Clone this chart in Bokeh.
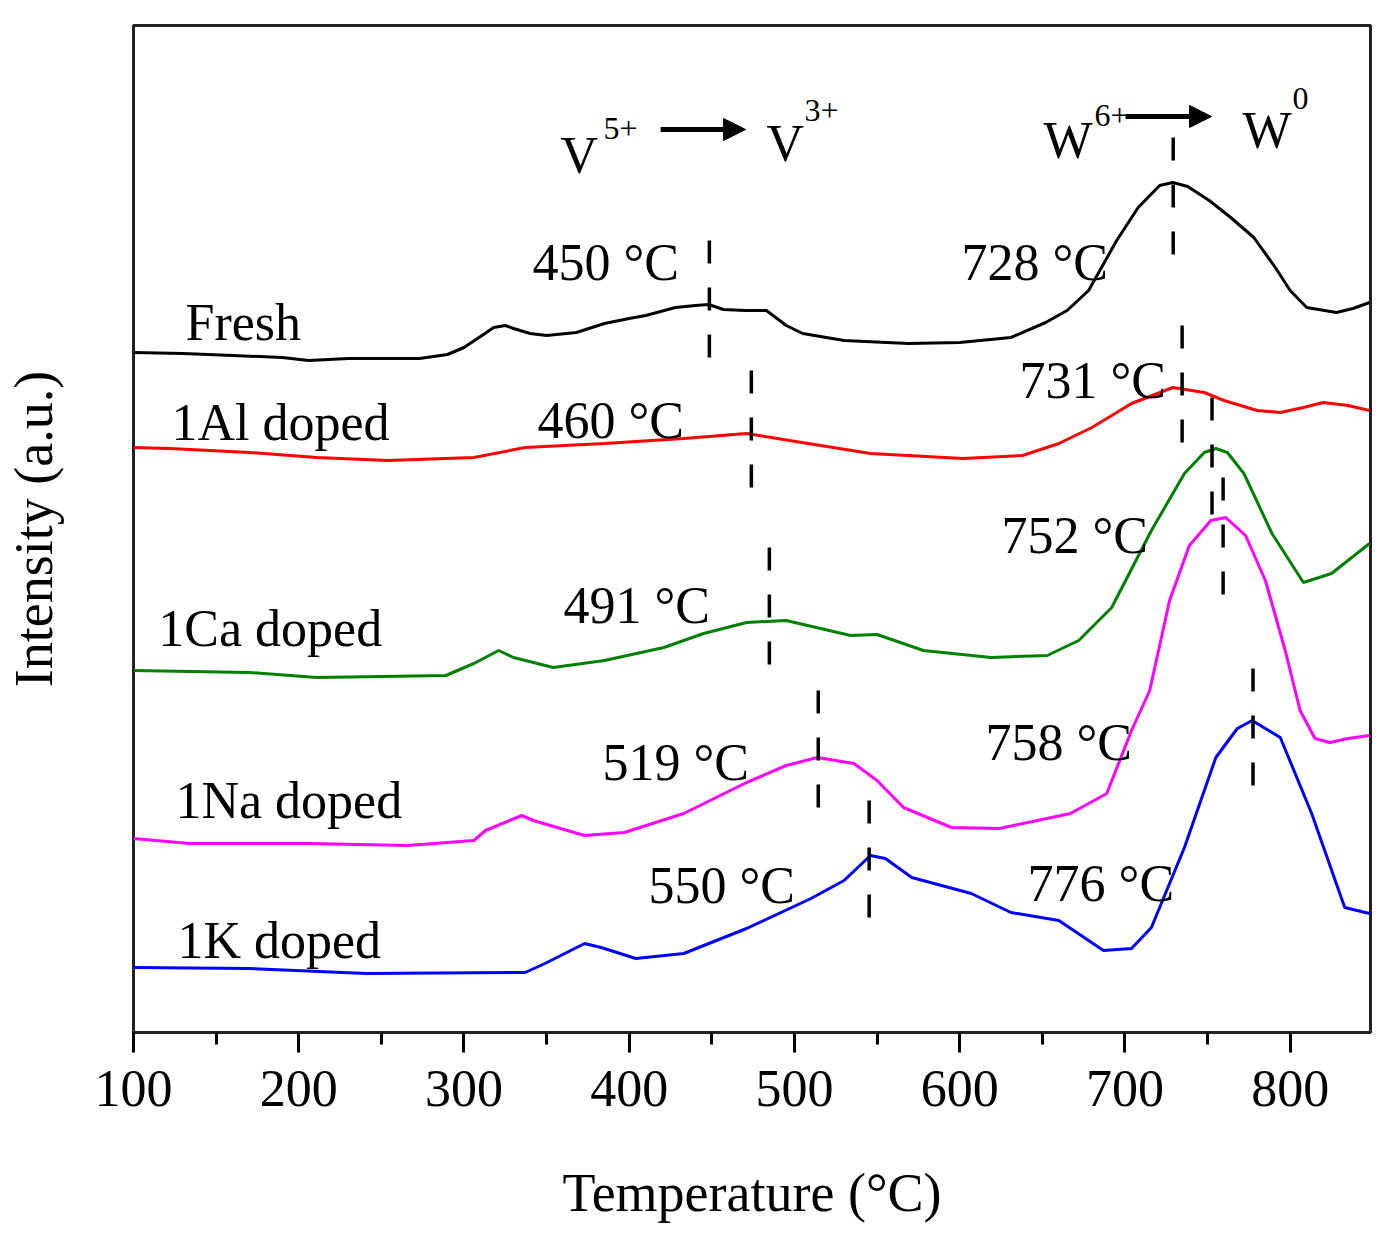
from bokeh.plotting import figure
from bokeh.models import Range1d, FixedTicker, Arrow, NormalHead
from bokeh.core.properties import value
from bokeh.embed import file_html
from bokeh.resources import INLINE

FONT = "Liberation Serif"

# H2-TPR profiles, values (intensity in a.u., curves already offset)
temp_fresh = [100, 130, 160, 190, 206, 230, 273, 290, 300, 310, 318, 325, 330, 340, 350, 368, 385, 400,
              410, 428, 440, 448, 457, 470, 483, 495, 505, 530, 569, 600, 631, 652, 665, 678, 695, 708,
              721, 729, 738, 751, 764, 778, 791, 800, 810, 828, 838, 848]
int_fresh = [680, 679, 677, 675, 672, 674, 674, 678, 685, 696, 705, 707, 704, 699, 697, 700, 709, 714,
             717, 725, 727, 728, 723, 722, 722, 707, 699, 692, 689, 690, 695, 710, 722, 742, 792, 825,
             847, 850, 846, 832, 815, 795, 765, 742, 725, 720, 724, 730]

temp_al = [100, 122, 170, 211, 254, 306, 337, 385, 433, 471, 497, 546, 602, 638, 660, 680, 704, 729,
           748, 760, 780, 794, 808, 820, 835, 848]
int_al = [585, 584, 580, 575, 572, 575, 585, 589, 594, 599, 592, 579, 574, 577, 589, 605, 629, 645,
          640, 632, 622, 620, 625, 630, 627, 622]

temp_ca = [100, 170, 211, 289, 306, 321, 330, 354, 385, 421, 445, 471, 495, 534, 550, 578, 619, 653,
           672, 692, 716, 736, 748, 755, 762, 772, 789, 808, 825, 848]
int_ca = [362, 360, 355, 357, 369, 382, 375, 365, 372, 385, 399, 410, 412, 397, 398, 382, 375, 377,
          392, 425, 502, 559, 580, 584, 580, 559, 499, 450, 459, 489]

temp_na = [100, 134, 206, 266, 306, 313, 335, 342, 373, 397, 433, 471, 495, 514, 536, 550, 566, 595,
           624, 667, 689, 704, 715, 727, 739, 752, 761, 773, 785, 797, 806, 815, 824, 835, 848]
int_na = [194, 189, 189, 187, 192, 202, 217, 212, 197, 200, 219, 250, 267, 275, 269, 252, 225, 205,
          204, 219, 239, 302, 342, 432, 487, 512, 515, 497, 452, 382, 322, 294, 290, 294, 297]

temp_k = [100, 170, 241, 337, 349, 373, 383, 404, 433, 471, 510, 530, 546, 555, 571, 607, 631, 660,
          687, 704, 716, 736, 755, 768, 777, 794, 813, 833, 848]
int_k = [65, 64, 59, 60, 69, 89, 85, 74, 79, 104, 134, 152, 177, 174, 155, 139, 120, 112,
         82, 84, 105, 185, 275, 304, 312, 295, 219, 125, 119]

series_names = ["Fresh", "1Al doped", "1Ca doped", "1Na doped", "1K doped"]
series_colors = ["black", "#ff0000", "#008000", "#ff00ff", "#0000ff"]

# peak markers: temperature label, dashed line position and vertical extent
peak_labels = ["450 \u00b0C", "460 \u00b0C", "491 \u00b0C", "519 \u00b0C", "550 \u00b0C",
               "728 \u00b0C", "731 \u00b0C", "752 \u00b0C", "758 \u00b0C", "776 \u00b0C"]
peak_x = [448.5, 473.9, 484.8, 514.4, 545.2, 729.2, 734.6, 752.7, 759.4, 777.5]
peak_y0 = [675, 545, 368, 225, 115, 778, 590, 518, 438, 247]
peak_y1 = [792, 662, 485, 342, 232, 895, 707, 635, 555, 364]
peak_label_x = [341.5, 344.5, 360.2, 383.8, 411.7, 601.1, 636.2, 625.3, 615.6, 641.1]
peak_label_y = [770, 612, 427, 270, 147, 770, 652, 497, 290, 149]

name_x = [131.5, 123.0, 115.0, 125.4, 126.6]
name_y = [710, 610, 404, 232, 92]

p = figure(frame_width=1237, frame_height=1007,
           x_range=Range1d(100, 848.6), y_range=Range1d(0, 1007),
           output_backend="svg", toolbar_location=None,
           min_border_left=133, min_border_top=25, min_border_right=16, min_border_bottom=195,
           background_fill_color="white", border_fill_color="white")

p.xgrid.visible = False
p.ygrid.visible = False
p.outline_line_color = "#222222"
p.outline_line_width = 3

curves = [(temp_fresh, int_fresh), (temp_al, int_al), (temp_ca, int_ca), (temp_na, int_na), (temp_k, int_k)]
for (tx, iy), col in zip(curves, series_colors):
    p.line(tx, iy, line_color=col, line_width=3)

p.segment(x0=peak_x, y0=peak_y1, x1=peak_x, y1=peak_y0,
          line_color="black", line_width=3.5, line_dash="23 24")

p.text(x=name_x, y=name_y, text=series_names, text_font=value(FONT), text_font_size="52px",
       text_baseline="alphabetic", text_align="left", text_color="black")
p.text(x=peak_label_x, y=peak_label_y, text=peak_labels, text_font=value(FONT), text_font_size="52px",
       text_baseline="alphabetic", text_align="left", text_color="black")

# oxidation state annotations
p.text(x=[358.4, 483.1, 650.7, 771.2], y=[877, 889, 892, 902], text=["V", "V", "W", "W"],
       text_font=value(FONT), text_font_size="52px", text_baseline="alphabetic", text_align="left")
p.text(x=[384.5, 506.1, 681.6, 801.4], y=[904, 922, 917, 934], text=["5+", "3+", "6+", "0"],
       text_font=value(FONT), text_font_size="32px", text_baseline="alphabetic", text_align="left")
for xs, xe, yy in [(419.0, 470.4, 903), (700.4, 752.4, 916)]:
    p.add_layout(Arrow(end=NormalHead(size=22, fill_color="black", line_color="black"),
                       x_start=xs, y_start=yy, x_end=xe, y_end=yy,
                       line_color="black", line_width=5))

ax = p.xaxis[0]
ax.ticker = FixedTicker(ticks=[100, 200, 300, 400, 500, 600, 700, 800],
                        minor_ticks=[150, 250, 350, 450, 550, 650, 750, 850])
ax.axis_line_color = "#222222"
ax.axis_line_width = 3
ax.major_tick_line_width = 3
ax.minor_tick_line_width = 3
ax.major_tick_in = 0
ax.major_tick_out = 20
ax.minor_tick_in = 0
ax.minor_tick_out = 12
ax.major_label_standoff = 18
ax.major_label_text_font = FONT
ax.major_label_text_font_size = "52px"
ax.major_label_text_color = "black"
ax.axis_label = "Temperature (\u00b0C)"
ax.axis_label_text_font = FONT
ax.axis_label_text_font_size = "54px"
ax.axis_label_text_font_style = "normal"
ax.axis_label_text_color = "black"
ax.axis_label_standoff = 54

ay = p.yaxis[0]
ay.ticker = FixedTicker(ticks=[])
ay.axis_line_color = None
ay.major_tick_line_color = None
ay.minor_tick_line_color = None
ay.major_label_text_font_size = "0px"
ay.axis_label = "Intensity (a.u.)"
ay.axis_label_text_font = FONT
ay.axis_label_text_font_size = "54px"
ay.axis_label_text_font_style = "normal"
ay.axis_label_text_color = "black"
ay.axis_label_standoff = 70

open("out.html", "w").write(file_html(p, INLINE))
